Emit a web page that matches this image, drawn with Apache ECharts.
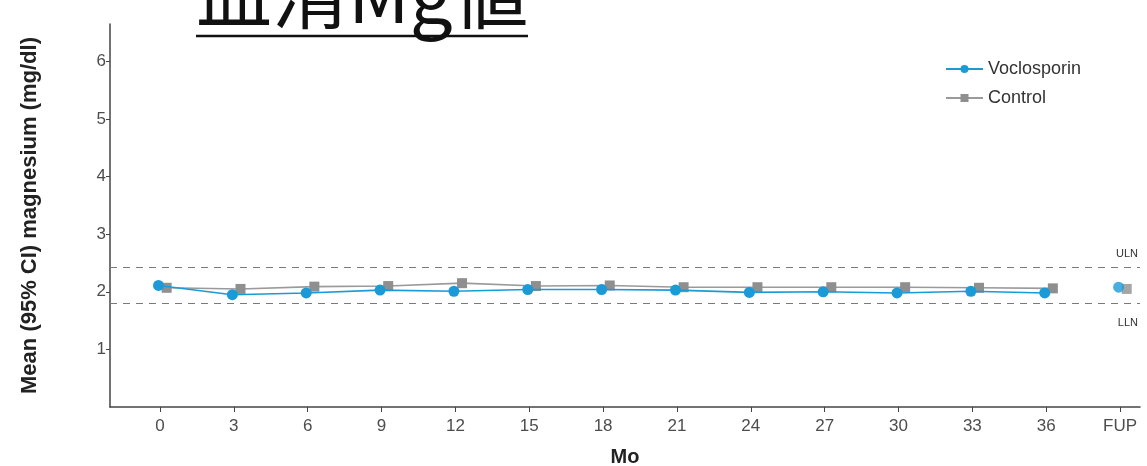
<!DOCTYPE html>
<html>
<head>
<meta charset="utf-8">
<script src="https://cdn.jsdelivr.net/npm/echarts@6/dist/echarts.min.js"></script>
<style>
  html, body { margin: 0; padding: 0; background: #fff; }
  #chart { width: 1147px; height: 466px; }
</style>
</head>
<body>
<div id="chart"></div>
<script>
// Visit labels along the x axis (months, then follow-up)
const months = ['0', '3', '6', '9', '12', '15', '18', '21', '24', '27', '30', '33', '36', 'FUP'];
// Mean serum magnesium (mg/dl) per visit
const voclosporin = [2.11, 1.95, 1.98, 2.03, 2.01, 2.04, 2.04, 2.03, 1.99, 2.00, 1.98, 2.01, 1.98, 2.08];
const control     = [2.07, 2.05, 2.09, 2.10, 2.15, 2.10, 2.11, 2.08, 2.08, 2.08, 2.08, 2.07, 2.06, 2.05];
// Reference limits
const uln = 2.43;
const lln = 1.81;
const yTicks = [1, 2, 3, 4, 5, 6];

const BLUE = '#1a9bd7';
const GREY = '#8f8f8f';
const FONT = '"Liberation Sans", Arial, sans-serif';

// Small horizontal dodge so the two groups sit side by side
const dodgeV = -0.02, dodgeC = 0.09;
const lastIdx = months.length - 1;
const toPts = (arr, d, from, to) => arr.slice(from, to).map((v, i) => [from + i + d, v]);

const chart = echarts.init(document.getElementById('chart'), null, { renderer: 'canvas' });

chart.setOption({
  animation: false,
  backgroundColor: '#ffffff',
  textStyle: { fontFamily: FONT },
  grid: { left: 110, right: 7, top: 24, bottom: 59, containLabel: false, outerBoundsMode: 'none' },
  legend: {
    left: 940, top: 55, orient: 'vertical', itemGap: 11,
    itemWidth: 37, itemHeight: 10,
    textStyle: { fontSize: 18, color: '#333', fontFamily: FONT },
    data: ['Voclosporin', 'Control']
  },
  xAxis: {
    type: 'value', min: -0.677, max: 13.27,
    name: 'Mo', nameLocation: 'middle', nameGap: 40,
    nameTextStyle: { fontSize: 20, fontWeight: 'bold', color: '#222', fontFamily: FONT },
    splitLine: { show: false },
    axisLine: { onZero: false, lineStyle: { color: '#444', width: 1.5 } },
    axisTick: { length: 5, lineStyle: { color: '#444', width: 1 }, customValues: months.map((_, i) => i) },
    axisLabel: {
      fontSize: 17, color: '#4d4d4d', margin: 11,
      customValues: months.map((_, i) => i),
      formatter: v => months[Math.round(v)]
    }
  },
  yAxis: {
    type: 'value', min: 0, max: 6.65,
    name: 'Mean (95% CI) magnesium (mg/dl)', nameLocation: 'middle', nameGap: 69,
    nameTextStyle: { fontSize: 22, fontWeight: 'bold', color: '#222', fontFamily: FONT },
    splitLine: { show: false },
    axisLine: { show: true, onZero: false, lineStyle: { color: '#444', width: 1.5 } },
    axisTick: { show: true, length: 4, lineStyle: { color: '#444', width: 1 }, customValues: yTicks },
    axisLabel: { fontSize: 17, color: '#4d4d4d', margin: 4, customValues: yTicks }
  },
  series: [
    {
      name: 'Control', type: 'line',
      data: toPts(control, dodgeC, 0, lastIdx),
      symbol: 'rect', symbolSize: 10,
      itemStyle: { color: GREY },
      lineStyle: { color: '#9a9a9a', width: 1.6 },
      z: 3
    },
    {
      name: 'Control', type: 'scatter',
      data: toPts(control, dodgeC, lastIdx, lastIdx + 1),
      symbol: 'rect', symbolSize: 10,
      itemStyle: { color: GREY }, z: 3
    },
    {
      name: 'Voclosporin', type: 'line',
      data: toPts(voclosporin, dodgeV, 0, lastIdx),
      symbol: 'circle', symbolSize: 11,
      itemStyle: { color: BLUE },
      lineStyle: { color: BLUE, width: 1.6 },
      z: 4,
      markLine: {
        silent: true, symbol: 'none',
        lineStyle: { color: '#7a7a7a', type: [7, 6], width: 1 },
        data: [
          { yAxis: uln, label: { formatter: 'ULN', position: 'insideEndTop', distance: [2, 8] } },
          { yAxis: lln, label: { formatter: 'LLN', position: 'insideEndBottom', distance: [2, 15] } }
        ],
        label: { fontSize: 11, color: '#333', fontFamily: FONT }
      }
    },
    {
      name: 'Voclosporin', type: 'scatter',
      data: toPts(voclosporin, dodgeV, lastIdx, lastIdx + 1),
      symbol: 'circle', symbolSize: 11,
      itemStyle: { color: BLUE }, z: 4
    }
  ],
  graphic: [
    {
      type: 'text', left: 196, top: -44,
      style: { text: '血清Mg値', font: '76px "Noto Sans CJK JP", sans-serif', fill: '#111' }
    },
    {
      type: 'line', shape: { x1: 196, y1: 36, x2: 528, y2: 36 },
      style: { stroke: '#111', lineWidth: 2.5 }
    }
  ]
});
</script>
</body>
</html>
